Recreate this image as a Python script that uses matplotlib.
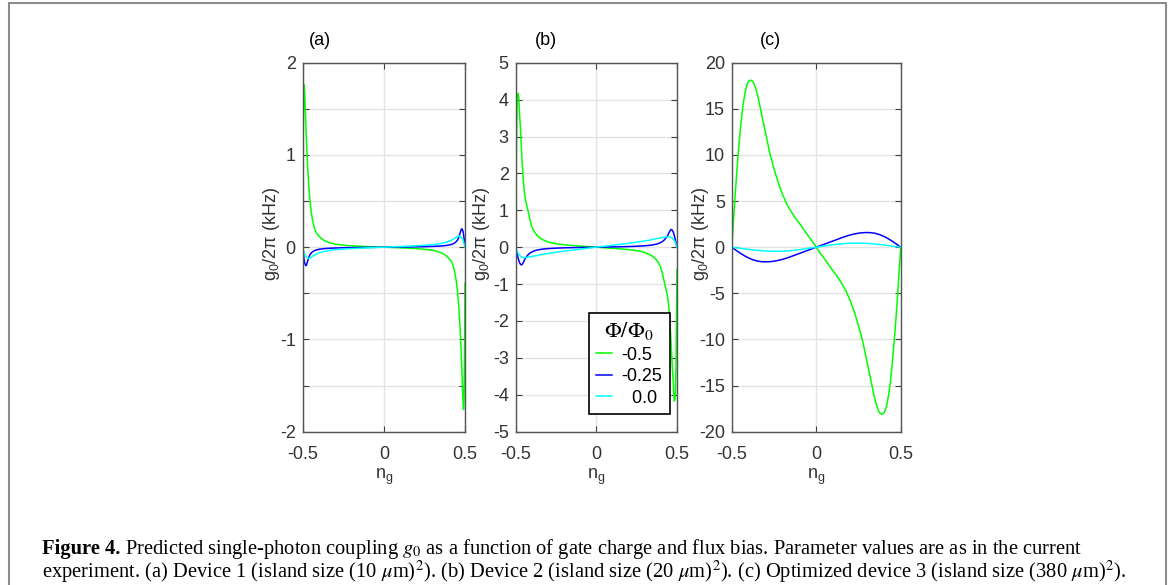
import matplotlib
matplotlib.use("Agg")
import matplotlib.pyplot as plt
import matplotlib.transforms as mtransforms
from matplotlib.patches import Rectangle

plt.rcParams['font.family'] = ['Liberation Sans', 'DejaVu Sans']
plt.rcParams['mathtext.fontset'] = 'custom'
plt.rcParams['mathtext.rm'] = 'Liberation Sans'
plt.rcParams['mathtext.it'] = 'Liberation Sans:italic'

# gate charge grid used for panels (a) and (b), dense near the edges
x_ab = [-0.5, -0.497, -0.494, -0.491, -0.488, -0.484, -0.48, -0.476, -0.471, -0.466,
        -0.46, -0.455, -0.448, -0.44, -0.43, -0.42, -0.41, -0.4, -0.385, -0.37,
        -0.35, -0.33, -0.3, -0.27, -0.23, -0.19, -0.15, -0.1, -0.05, 0,
        0.05, 0.1, 0.15, 0.19, 0.23, 0.27, 0.3, 0.33, 0.35, 0.37,
        0.385, 0.4, 0.41, 0.42, 0.43, 0.44, 0.448, 0.455, 0.46, 0.466,
        0.471, 0.476, 0.48, 0.484, 0.488, 0.491, 0.494, 0.497, 0.5]

# (a) device 1
a_m05 = [0.39, 1.15, 1.65, 1.76, 1.68, 1.5, 1.3, 1.12, 0.92, 0.76,
         0.6, 0.5, 0.39, 0.3, 0.22, 0.17, 0.14, 0.12, 0.095, 0.075,
         0.058, 0.046, 0.034, 0.026, 0.019, 0.014, 0.01, 0.006, 0.003, 0,
         -0.003, -0.006, -0.01, -0.014, -0.019, -0.026, -0.034, -0.046, -0.058, -0.075,
         -0.095, -0.12, -0.14, -0.17, -0.22, -0.3, -0.39, -0.5, -0.6, -0.76,
         -0.92, -1.12, -1.3, -1.5, -1.68, -1.76, -1.65, -1.15, -0.39]
a_m025 = [0, -0.05, -0.1, -0.14, -0.17, -0.19, -0.2, -0.19, -0.16, -0.13,
          -0.1, -0.08, -0.065, -0.05, -0.04, -0.032, -0.027, -0.023, -0.019, -0.016,
          -0.013, -0.011, -0.009, -0.007, -0.005, -0.004, -0.003, -0.002, -0.001, 0,
          0.001, 0.002, 0.003, 0.004, 0.005, 0.007, 0.009, 0.011, 0.013, 0.016,
          0.019, 0.023, 0.027, 0.032, 0.04, 0.05, 0.065, 0.08, 0.1, 0.13,
          0.16, 0.19, 0.2, 0.19, 0.17, 0.14, 0.1, 0.05, 0]
a_00 = [0, -0.02, -0.04, -0.06, -0.075, -0.09, -0.1, -0.11, -0.117, -0.12,
        -0.12, -0.118, -0.11, -0.1, -0.088, -0.078, -0.07, -0.063, -0.054, -0.047,
        -0.04, -0.034, -0.028, -0.023, -0.018, -0.014, -0.011, -0.007, -0.0035, 0,
        0.0035, 0.007, 0.011, 0.014, 0.018, 0.023, 0.028, 0.034, 0.04, 0.047,
        0.054, 0.063, 0.07, 0.078, 0.088, 0.1, 0.11, 0.118, 0.12, 0.12,
        0.117, 0.11, 0.1, 0.09, 0.075, 0.06, 0.04, 0.02, 0]

# (b) device 2
b_m05 = [0.6, 2.0, 3.2, 3.9, 4.12, 4.17, 3.95, 3.6, 3.25, 2.8,
         2.3, 1.95, 1.55, 1.3, 1.1, 0.92, 0.72, 0.55, 0.42, 0.33,
         0.25, 0.2, 0.14, 0.11, 0.08, 0.062, 0.047, 0.03, 0.015, 0,
         -0.015, -0.03, -0.047, -0.062, -0.08, -0.11, -0.14, -0.2, -0.25, -0.33,
         -0.42, -0.55, -0.72, -0.92, -1.1, -1.3, -1.55, -1.95, -2.3, -2.8,
         -3.25, -3.6, -3.95, -4.17, -4.12, -3.9, -3.2, -2.0, -0.6]
b_m025 = [0, -0.06, -0.12, -0.18, -0.24, -0.31, -0.37, -0.42, -0.46, -0.48,
          -0.47, -0.43, -0.37, -0.3, -0.24, -0.19, -0.155, -0.13, -0.1, -0.08,
          -0.063, -0.05, -0.038, -0.03, -0.022, -0.016, -0.012, -0.008, -0.004, 0,
          0.004, 0.008, 0.012, 0.016, 0.022, 0.03, 0.038, 0.05, 0.063, 0.08,
          0.1, 0.13, 0.155, 0.19, 0.24, 0.3, 0.37, 0.43, 0.47, 0.48,
          0.46, 0.42, 0.37, 0.31, 0.24, 0.18, 0.12, 0.06, 0]
b_00 = [0, -0.04, -0.08, -0.11, -0.14, -0.17, -0.2, -0.22, -0.24, -0.26,
        -0.27, -0.28, -0.28, -0.28, -0.275, -0.27, -0.26, -0.255, -0.24, -0.23,
        -0.21, -0.19, -0.17, -0.15, -0.125, -0.1, -0.08, -0.053, -0.026, 0,
        0.026, 0.053, 0.08, 0.1, 0.125, 0.15, 0.17, 0.19, 0.21, 0.23,
        0.24, 0.255, 0.26, 0.27, 0.275, 0.28, 0.28, 0.28, 0.27, 0.26,
        0.24, 0.22, 0.2, 0.17, 0.14, 0.11, 0.08, 0.04, 0]

# (c) optimized device 3
x_c_green = [-0.5, -0.49, -0.48, -0.47, -0.46, -0.45, -0.44, -0.43, -0.42, -0.41,
             -0.4, -0.39, -0.38, -0.37, -0.36, -0.35, -0.34, -0.33, -0.32, -0.3,
             -0.275, -0.25, -0.225, -0.2, -0.175, -0.15, -0.125, -0.1, -0.075, -0.05,
             -0.025, 0, 0.025, 0.05, 0.075, 0.1, 0.125, 0.15, 0.175, 0.2,
             0.225, 0.25, 0.275, 0.3, 0.32, 0.33, 0.34, 0.35, 0.36, 0.37,
             0.38, 0.39, 0.4, 0.41, 0.42, 0.43, 0.44, 0.45, 0.46, 0.47,
             0.48, 0.49, 0.5]
c_m05 = [0, 2.8, 5.6, 8.2, 10.5, 12.6, 14.4, 15.8, 16.9, 17.6,
         18.0, 18.1, 18.05, 17.8, 17.3, 16.7, 15.9, 15.0, 14.1, 12.4,
         10.2, 8.5, 7.0, 5.75, 4.7, 3.9, 3.2, 2.6, 1.95, 1.3,
         0.68, 0, -0.68, -1.3, -1.95, -2.6, -3.2, -3.9, -4.7, -5.75,
         -7.0, -8.5, -10.2, -12.4, -14.1, -15.0, -15.9, -16.7, -17.3, -17.8,
         -18.05, -18.1, -18.0, -17.6, -16.9, -15.8, -14.4, -12.6, -10.5, -8.2,
         -5.6, -2.8, 0]
x_c = [-0.5, -0.475, -0.45, -0.425, -0.4, -0.375, -0.35, -0.325, -0.3, -0.275,
       -0.25, -0.225, -0.2, -0.175, -0.15, -0.125, -0.1, -0.075, -0.05, -0.025, 0,
       0.025, 0.05, 0.075, 0.1, 0.125, 0.15, 0.175, 0.2, 0.225, 0.25,
       0.275, 0.3, 0.325, 0.35, 0.375, 0.4, 0.425, 0.45, 0.475, 0.5]
c_m025 = [0, -0.33, -0.65, -0.93, -1.17, -1.36, -1.5, -1.57, -1.59, -1.57,
          -1.52, -1.43, -1.32, -1.18, -1.02, -0.85, -0.68, -0.51, -0.34, -0.17, 0,
          0.17, 0.34, 0.51, 0.68, 0.85, 1.02, 1.18, 1.32, 1.43, 1.52,
          1.57, 1.59, 1.57, 1.5, 1.36, 1.17, 0.93, 0.65, 0.33, 0]
c_00 = [0, -0.06, -0.12, -0.18, -0.24, -0.29, -0.34, -0.38, -0.41, -0.43,
        -0.44, -0.44, -0.43, -0.41, -0.37, -0.32, -0.26, -0.2, -0.13, -0.07, 0,
        0.07, 0.13, 0.2, 0.26, 0.32, 0.37, 0.41, 0.43, 0.44, 0.44,
        0.43, 0.41, 0.38, 0.34, 0.29, 0.24, 0.18, 0.12, 0.06, 0]

flux_labels = ['-0.5', '-0.25', '  0.0']
colors = ['#00ff00', '#0000ff', '#00ffff']

panels = [
    ('(a)', [x_ab, x_ab, x_ab], [a_m05, a_m025, a_00], [-2, 2],
     [-2, -1.5, -1, -0.5, 0, 0.5, 1, 1.5, 2],
     ['-2', '', '-1', '', '0', '', '1', '', '2']),
    ('(b)', [x_ab, x_ab, x_ab], [b_m05, b_m025, b_00], [-5, 5], list(range(-5, 6)),
     [str(v) for v in range(-5, 6)]),
    ('(c)', [x_c_green, x_c, x_c], [c_m05, c_m025, c_00], [-20, 20],
     list(range(-20, 21, 5)), [str(v) for v in range(-20, 21, 5)]),
]
ax_pos = [[0.2585, 0.2621, 0.1386, 0.6307],
          [0.4404, 0.2621, 0.1377, 0.6307],
          [0.6249, 0.2621, 0.1443, 0.6307]]
title_x = [0.2733, 0.4663, 0.6576]
ylabel_x = [0.232, 0.4115, 0.598]

fig = plt.figure(figsize=(11.71, 5.85), dpi=100)

axes = []
for i, (tag, xs, ys, ylim, yt, ytl) in enumerate(panels):
    ax = fig.add_axes(ax_pos[i])
    for x, y, c, lab in zip(xs, ys, colors, flux_labels):
        ax.plot(x, y, color=c, lw=1.1, label=lab)
    ax.set_xlim(-0.5, 0.5)
    ax.set_ylim(ylim)
    ax.set_xticks([-0.5, 0, 0.5])
    ax.set_xticklabels(['-0.5', '0', '0.5'])
    ax.set_yticks(yt)
    ax.set_yticklabels(ytl)
    ax.grid(True, color='#e3e3e3', lw=1.0)
    ax.set_axisbelow(True)
    ax.tick_params(direction='in', length=4, width=0.8, colors='#404040',
                   labelcolor='#333333', labelsize=13, top=True, right=True)
    ax.tick_params(axis='x', pad=10)
    ax.tick_params(axis='y', pad=5)
    for s in ax.spines.values():
        s.set_color('#555555')
        s.set_linewidth(1.0)
    ax.set_xlabel(r'n$_\mathrm{g}$', fontsize=13, color='#333333', va='center')
    ax.xaxis.set_label_coords(
        0.5, 0.185, transform=mtransforms.blended_transform_factory(ax.transAxes, fig.transFigure))
    ax.set_ylabel(r'g$_\mathrm{0}$/2π (kHz)', fontsize=13, color='#333333', va='center')
    ax.yaxis.set_label_coords(
        ylabel_x[i], 0.537, transform=mtransforms.blended_transform_factory(fig.transFigure, ax.transAxes))
    fig.text(title_x[i], 0.9316, tag, ha='center', va='center', fontsize=13)
    axes.append(ax)

leg = axes[1].legend(loc='upper left', bbox_to_anchor=(0.503, 0.465),
                     bbox_transform=fig.transFigure, borderaxespad=0,
                     fontsize=13, handlelength=0.9, handletextpad=0.5,
                     labelspacing=0.25, borderpad=0.4, fancybox=False,
                     framealpha=1, edgecolor='black',
                     title=r'$\mathrm{\Phi/\Phi_0}$', title_fontsize=16)
leg.get_frame().set_linewidth(1.2)
leg.get_title().set_math_fontfamily('stix')

# figure caption
cap_fs = 14.8
t1 = fig.text(0.0359, 0.0615, 'Figure 4.', fontsize=cap_fs, fontweight='bold',
              family='Liberation Serif', va='center')
axes[0].annotate(' Predicted single-photon coupling $g_\\mathrm{0}$ as a function of gate charge and '
                 'flux bias. Parameter values are as in the current',
                 xy=(1, 0.5), xycoords=t1, va='center', fontsize=cap_fs,
                 family='Liberation Serif', math_fontfamily='stix',
                 annotation_clip=False)
fig.text(0.0359, 0.0222,
         r'experiment. (a) Device 1 (island size (10 $\mu$m)$^2$). (b) Device 2 (island size '
         r'(20 $\mu$m)$^2$). (c) Optimized device 3 (island size (380 $\mu$m)$^2$).',
         fontsize=cap_fs, family='Liberation Serif', math_fontfamily='stix', va='center')

fig.add_artist(Rectangle((8.5 / 1171, -0.05), (1166 - 8.5) / 1171, 1.05 - 3 / 585,
                         transform=fig.transFigure, fill=False,
                         edgecolor='#8c8c8c', lw=1.5))

fig.savefig('out.png', dpi=100)
